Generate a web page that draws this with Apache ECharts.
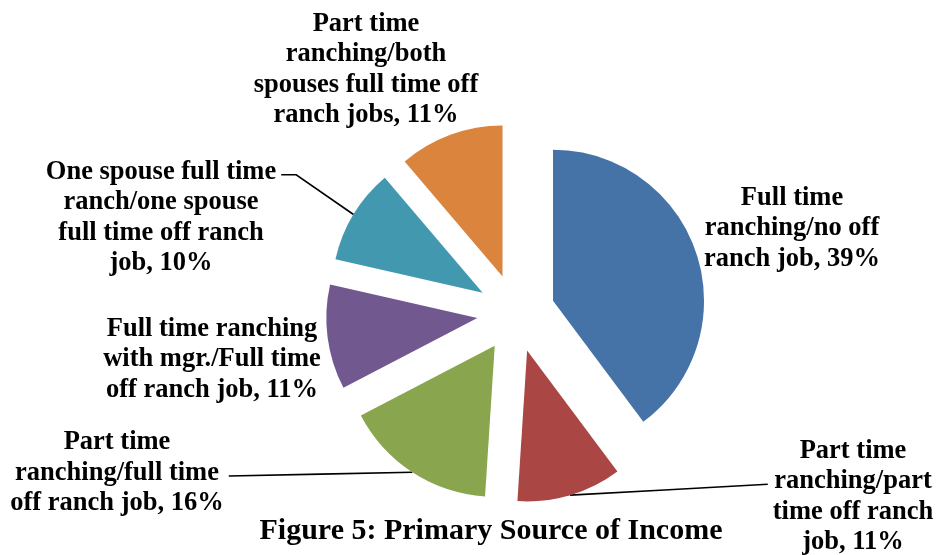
<!DOCTYPE html>
<html>
<head>
<meta charset="utf-8">
<title>Figure 5: Primary Source of Income</title>
<script src="https://cdn.jsdelivr.net/npm/echarts@6/dist/echarts.min.js"></script>
<style>
  html, body { margin: 0; padding: 0; background: #ffffff; }
  #chart { width: 937px; height: 555px; }
</style>
</head>
<body>
<div id="chart"></div>
<script>
// Income categories, clockwise from 12 o'clock
const categories = [
  'Full time\nranching/no off\nranch job',
  'Part time\nranching/part\ntime off ranch\njob',
  'Part time\nranching/full time\noff ranch job',
  'Full time ranching\nwith mgr./Full time\noff ranch job',
  'One spouse full time\nranch/one spouse\nfull time off ranch\njob',
  'Part time\nranching/both\nspouses full time off\nranch jobs'
];
// Share of respondents (%)
const shares = [39, 11, 16, 11, 10, 11];

const colors = ['#4572A7', '#AA4643', '#89A54E', '#71588F', '#4198AF', '#DB843D'];

// Pie geometry: centre, radius and how far every slice is pulled out
const PIE = { cx: 516, cy: 313, r: 151, explode: 39 };

// Centre of each label block
const labelSpots = [
  [792, 228.5], [853, 496.5], [117, 473], [212, 359.5], [161, 217.5], [366, 69.5]
];
// Leader lines: which side of the label they meet, on which text line, optional short elbow
const leaders = [
  null,
  { side: 'left', line: 1 },
  { side: 'right', line: 1 },
  null,
  { side: 'right', line: 0, elbow: 15 },
  null
];

const FONT = '"Liberation Serif", "Times New Roman", serif';
const LABEL_SIZE = 26.5;
const LINE_H = 30.5;

const total = shares.reduce(function (a, b) { return a + b; }, 0);

// Mid-angle of every slice (radians, clockwise from 12 o'clock)
const midAngles = [];
(function () {
  let acc = 0;
  shares.forEach(function (v) {
    midAngles.push((acc + v / 2) / total * Math.PI * 2);
    acc += v;
  });
})();

// One pie per slice: same data everywhere, only slice i is painted,
// and that pie's centre is pushed out along the slice's mid-angle.
const series = shares.map(function (v, i) {
  const a = midAngles[i];
  const cx = PIE.cx + PIE.explode * Math.sin(a);
  const cy = PIE.cy - PIE.explode * Math.cos(a);
  return {
    type: 'pie',
    center: [cx, cy],
    radius: PIE.r,
    startAngle: 90,
    clockwise: true,
    silent: true,
    avoidLabelOverlap: false,
    emphasis: { disabled: true },
    label: {
      show: false,
      formatter: '{b}, {c}%',
      fontFamily: FONT,
      fontWeight: 'bold',
      fontSize: LABEL_SIZE,
      lineHeight: LINE_H,
      color: '#000',
      align: 'center'
    },
    labelLine: {
      show: false,
      smooth: false,
      lineStyle: { color: '#000', width: 1.6 }
    },
    labelLayout: function (params) {
      if (params.dataIndex !== i) return {};
      const spot = labelSpots[i];
      const out = { x: spot[0], y: spot[1], align: 'center', verticalAlign: 'middle' };
      const lead = leaders[i];
      if (lead) {
        const w = params.labelRect.width;
        const h = params.labelRect.height;
        const left = spot[0] - w / 2;
        const top = spot[1] - h / 2;
        const ly = top + LINE_H * (lead.line + 0.5) + 3;
        const ex = lead.side === 'right' ? left + w + 5 : left - 5;
        const sx = cx + PIE.r * Math.sin(a);
        const sy = cy - PIE.r * Math.cos(a);
        const bend = lead.elbow
          ? [ex + (lead.side === 'right' ? lead.elbow : -lead.elbow), ly]
          : [(sx + ex) / 2, (sy + ly) / 2];
        out.labelLinePoints = [[sx, sy], bend, [ex, ly]];
      }
      return out;
    },
    data: categories.map(function (name, j) {
      const own = j === i;
      return {
        name: name,
        value: shares[j],
        itemStyle: { color: own ? colors[j] : 'rgba(0,0,0,0)' },
        label: { show: own },
        labelLine: { show: own && !!leaders[j] }
      };
    })
  };
});

const chart = echarts.init(document.getElementById('chart'), null, { renderer: 'canvas' });

chart.setOption({
  animation: false,
  title: {
    text: 'Figure 5: Primary Source of Income',
    left: 486,
    top: 511,
    textAlign: 'center',
    textStyle: {
      fontFamily: FONT,
      fontWeight: 'bold',
      fontSize: 30,
      color: '#000'
    }
  },
  series: series
});
</script>
</body>
</html>
